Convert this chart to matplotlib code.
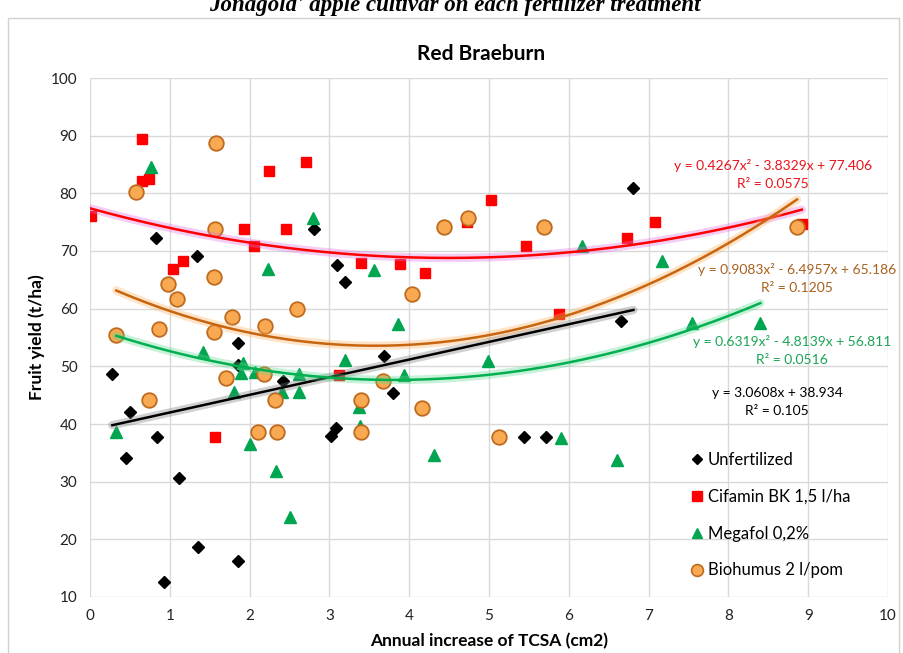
import numpy as np
import matplotlib
matplotlib.use("Agg")
import matplotlib.pyplot as plt
from matplotlib.patches import Rectangle
from matplotlib.lines import Line2D

# ---------------- data ----------------
unf_x = [0.28, 0.45, 0.50, 0.83, 0.84, 0.93, 1.11, 1.34, 1.35, 1.86, 1.855, 1.855,
         2.42, 2.81, 3.02, 3.08, 3.10, 3.20, 3.68, 3.80, 5.44, 5.72, 6.65, 6.81]
unf_y = [48.7, 34.1, 42.0, 72.3, 37.8, 12.6, 30.6, 69.2, 18.6, 16.2, 54.0, 50.2,
         47.4, 73.9, 37.9, 39.3, 67.6, 64.6, 51.8, 45.4, 37.7, 37.7, 57.9, 81.0]

cif_x = [0.01, 0.65, 0.65, 0.74, 1.04, 1.17, 1.57, 1.93, 2.06, 2.24, 2.45, 2.71,
         3.12, 3.39, 3.88, 4.20, 4.72, 5.03, 5.46, 5.88, 6.73, 7.08, 8.92]
cif_y = [76.1, 89.5, 82.2, 82.4, 66.8, 68.3, 37.8, 73.9, 70.9, 83.9, 73.9, 85.5,
         48.5, 68.0, 67.8, 66.2, 75.0, 78.8, 70.9, 59.0, 72.2, 75.0, 74.6]

meg_x = [0.33, 0.77, 1.41, 1.81, 1.89, 1.92, 2.01, 2.07, 2.23, 2.33, 2.41, 2.50,
         2.62, 2.62, 2.79, 3.19, 3.37, 3.38, 3.56, 3.86, 3.93, 4.31, 4.99, 5.90,
         6.16, 6.61, 7.17, 7.55, 8.40]
meg_y = [38.6, 84.6, 52.5, 45.6, 48.9, 50.5, 36.5, 49.0, 66.8, 31.8, 45.5, 23.8,
         48.7, 45.6, 75.8, 51.1, 42.9, 39.6, 66.7, 57.4, 48.5, 34.6, 51.0, 37.5,
         70.9, 33.8, 68.2, 57.5, 57.5]

bio_x = [0.33, 0.58, 0.74, 0.87, 0.98, 1.09, 1.58, 1.57, 1.55, 1.55, 1.70, 1.78,
         2.10, 2.19, 2.18, 2.32, 2.34, 2.59, 3.39, 3.40, 3.67, 4.04, 4.16, 4.43,
         4.74, 5.12, 5.69, 8.86]
bio_y = [55.5, 80.2, 44.1, 56.4, 64.2, 61.6, 88.7, 73.8, 65.5, 56.0, 47.9, 58.5,
         38.6, 57.0, 48.7, 44.1, 38.6, 59.9, 44.1, 38.6, 47.4, 62.6, 42.8, 74.2,
         75.8, 37.7, 74.2, 74.1]

series_names = ["Unfertilized", "Cifamin BK 1,5 l/ha", "Megafol 0,2%", "Biohumus 2 l/pom"]

# trendline coefficients (highest power first)
unf_coef = [3.0608, 38.934]
cif_coef = [0.4267, -3.8329, 77.406]
meg_coef = [0.6319, -4.8139, 56.811]
bio_coef = [0.9083, -6.4957, 65.186]

unf_eq = ["y = 3.0608x + 38.934", "R² = 0.105"]
cif_eq = ["y = 0.4267x² - 3.8329x + 77.406", "R² = 0.0575"]
meg_eq = ["y = 0.6319x² - 4.8139x + 56.811", "R² = 0.0516"]
bio_eq = ["y = 0.9083x² - 6.4957x + 65.186", "R² = 0.1205"]

x_ticks = list(range(0, 11))
y_ticks = list(range(10, 101, 10))

# ---------------- figure ----------------
W, H = 904, 653
fig = plt.figure(figsize=(W / 100, H / 100), dpi=100)
FONT = ["Lato", "DejaVu Sans"]

# caption cut at top (as in the reference)
fig.text(0.503, 1 - 11 / H, "Jonagold' apple cultivar on each fertilizer treatment",
         ha="center", va="baseline", fontsize=16.5, fontweight="bold", fontstyle="italic",
         family=["Liberation Serif", "DejaVu Serif"], color="black")

# chart frame
fig.patches.append(Rectangle((8 / W, -0.05), (899 - 8) / W, 1.05 - 18 / H,
                             transform=fig.transFigure, fill=False,
                             edgecolor="#d0d0d0", linewidth=1.0))

ax = fig.add_axes([90 / W, 1 - 597 / H, (888 - 90) / W, (597 - 78) / H])
ax.set_xlim(0, 10)
ax.set_ylim(10, 100)
ax.set_xticks(x_ticks)
ax.set_yticks(y_ticks)
ax.grid(True, color="#d9d9d9", linewidth=1.0)
ax.set_axisbelow(True)
for s in ax.spines.values():
    s.set_visible(False)
ax.tick_params(length=0, labelsize=11, colors="#222222", pad=9)
for lab in ax.get_xticklabels() + ax.get_yticklabels():
    lab.set_family(FONT)

ax.set_title("Red Braeburn", fontsize=15, fontweight="bold", family=FONT, pad=13, x=0.49)
ax.set_xlabel("Annual increase of TCSA (cm2)", fontsize=12.5, fontweight="bold",
              family=FONT, labelpad=7)
ax.set_ylabel("Fruit yield (t/ha)", fontsize=12.5, fontweight="bold", family=FONT,
              labelpad=4)

# markers
ax.plot(unf_x, unf_y, "D", color="black", ms=6, ls="none", zorder=3)
ax.plot(cif_x, cif_y, "s", color="#ff0000", ms=7.5, ls="none", zorder=3)
ax.plot(meg_x, meg_y, "^", color="#00a550", ms=8, ls="none", zorder=3)
ax.plot(bio_x, bio_y, "o", mfc="#f9a952", mec="#c06a1e", mew=1.3, ms=10.5, ls="none", zorder=3)

# trendlines with glow
def trend(coef, xs, col, glow):
    xx = np.linspace(min(xs), max(xs), 200)
    yy = np.polyval(coef, xx)
    ax.plot(xx, yy, color=glow, lw=6, alpha=0.35, solid_capstyle="round", zorder=4)
    ax.plot(xx, yy, color=col, lw=1.8, zorder=4)

trend(unf_coef, unf_x, "black", "#7a7a7a")
trend(cif_coef, cif_x, "#ff0000", "#e070e0")
trend(meg_coef, meg_x, "#00b050", "#60d890")
trend(bio_coef, bio_x, "#c8650f", "#ffb060")

# equations
def eq(lines, xc, y1, col):
    xd = (xc - 90) / 79.8
    for i, t in enumerate(lines):
        yd = 10 + (597 - (y1 + i * 18)) / 5.763
        ax.text(xd, yd, t, ha="center", va="center", fontsize=10, color=col,
                family=FONT, zorder=5)

eq(cif_eq, 773, 166, "#e8141b")
eq(bio_eq, 797, 270, "#a8601e")
eq(meg_eq, 792, 342, "#1aa556")
eq(unf_eq, 777, 393, "black")

# legend
handles = [
    Line2D([], [], marker="D", color="black", ms=5.5, ls="none"),
    Line2D([], [], marker="s", color="#ff0000", ms=7, ls="none"),
    Line2D([], [], marker="^", color="#00a550", ms=7.5, ls="none"),
    Line2D([], [], marker="o", mfc="#f9a952", mec="#c06a1e", mew=1.2, ms=8.5, ls="none"),
]
leg = ax.legend(handles, series_names, loc="upper left",
                bbox_to_anchor=((692 - 90) / 798, (597 - 452) / 519),
                frameon=False, fontsize=12, labelspacing=1.25, handlelength=0.6,
                handletextpad=0.35, borderaxespad=0, borderpad=0)
for t in leg.get_texts():
    t.set_family(FONT)

fig.savefig("out.png", dpi=100)
